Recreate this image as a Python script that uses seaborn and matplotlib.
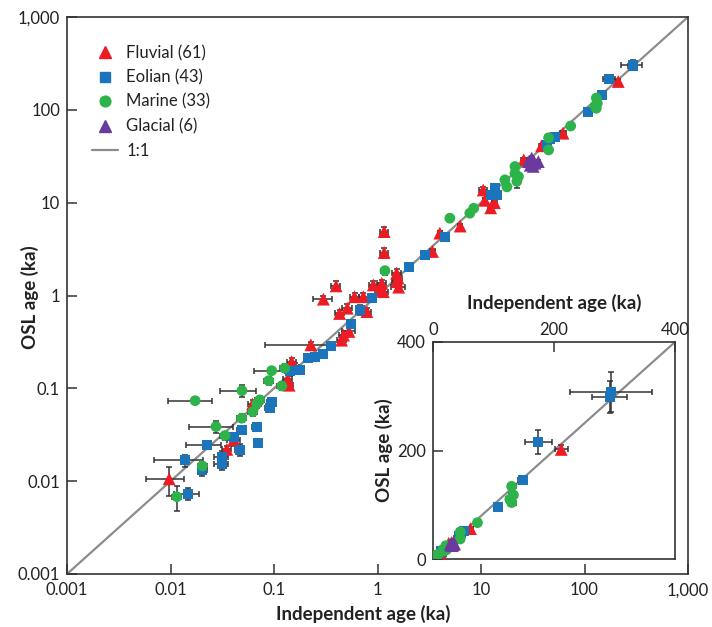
import numpy as np
import pandas as pd
import matplotlib
matplotlib.use("Agg")
import matplotlib.pyplot as plt
import seaborn as sns
from matplotlib.lines import Line2D

sns.set_theme(style="white")
plt.rcParams['font.family'] = ['Lato', 'DejaVu Sans']

# ---------------- data (ka) ----------------
fluv_x = [0.0097, 0.041, 0.062, 0.14, 0.148, 0.136, 0.16, 0.227, 0.45, 0.47,
          0.53, 0.43, 0.51, 0.79, 0.6, 0.73, 0.3, 0.398, 0.91, 1.14,
          1.1, 1.06, 1.16, 1.16, 1.53, 1.58, 1.6, 1.55, 3.4, 4.0,
          10.5, 12.4, 10.9, 25.9, 38.5, 62, 212, 13.5, 6.3, 0.035]
fluv_y = [0.0106, 0.028, 0.068, 0.108, 0.194, 0.126, 0.17, 0.294, 0.33, 0.374,
          0.41, 0.64, 0.73, 0.67, 0.97, 0.97, 0.913, 1.27, 1.3, 1.1,
          1.35, 1.15, 4.88, 2.9, 1.74, 1.54, 1.23, 1.41, 2.98, 4.7,
          13.7, 8.8, 10.6, 28.9, 41, 56, 202, 10.0, 5.6, 0.022]
fluv_xerr = [0.4, 0.15, 0.1, 0.1, 0.1, 0.1, 0.1, 0.64, 0.1, 0.1,
             0.15, 0.1, 0.1, 0.1, 0.1, 0.1, 0.2, 0.1, 0.1, 0.1,
             0.1, 0.1, 0.08, 0.08, 0.1, 0.1, 0.15, 0.1, 0.05, 0.05,
             0.08, 0.05, 0.05, 0.05, 0.05, 0.06, 0.05, 0.05, 0.05, 0.1]
fluv_yerr = [0.35, 0.15, 0.1, 0.1, 0.1, 0.1, 0.1, 0.08, 0.12, 0.1,
             0.1, 0.1, 0.1, 0.1, 0.1, 0.1, 0.08, 0.12, 0.1, 0.1,
             0.1, 0.1, 0.12, 0.12, 0.1, 0.1, 0.1, 0.1, 0.05, 0.05,
             0.08, 0.05, 0.05, 0.05, 0.05, 0.06, 0.04, 0.05, 0.05, 0.1]

eol_x = [0.0149, 0.0138, 0.0203, 0.0224, 0.0313, 0.0313, 0.0469, 0.0705, 0.0487, 0.068,
         0.0915, 0.0948, 0.143, 0.179, 0.213, 0.25, 0.3, 0.355, 0.56, 0.68,
         0.88, 2.01, 2.88, 4.49, 13.6, 12.6, 14.2, 51.9, 46.6, 43.5,
         108, 148, 174, 294, 292, 0.041]
eol_y = [0.0073, 0.0167, 0.0133, 0.0246, 0.0184, 0.0154, 0.0217, 0.0256, 0.0355, 0.038,
         0.062, 0.072, 0.152, 0.158, 0.21, 0.22, 0.235, 0.288, 0.49, 0.7,
         0.94, 2.02, 2.74, 4.25, 14.3, 12.2, 12.2, 51.5, 48.6, 42,
         95, 145, 216, 307, 299, 0.03]
eol_xerr = [0.27, 0.5, 0.1, 0.37, 0.15, 0.15, 0.1, 0.0, 0.1, 0.1,
            0.1, 0.1, 0.1, 0.1, 0.05, 0.05, 0.05, 0.05, 0.08, 0.08,
            0.05, 0.0, 0.0, 0.05, 0.05, 0.05, 0.05, 0.05, 0.05, 0.05,
            0.05, 0.05, 0.13, 0.23, 0.1, 0.1]
eol_yerr = [0.15, 0.15, 0.15, 0.1, 0.15, 0.15, 0.15, 0.0, 0.1, 0.0,
            0.1, 0.1, 0.1, 0.1, 0.05, 0.05, 0.05, 0.05, 0.08, 0.12,
            0.05, 0.0, 0.0, 0.05, 0.05, 0.05, 0.05, 0.05, 0.05, 0.05,
            0.05, 0.05, 0.1, 0.12, 0.1, 0.1]

mar_x = [0.0173, 0.0115, 0.0203, 0.0336, 0.0275, 0.0487, 0.0624, 0.073, 0.068, 0.049,
         0.095, 0.089, 0.119, 0.127, 1.18, 5.0, 7.8, 8.5, 17, 17.8,
         21.3, 23, 21.3, 22.2, 45, 45, 73.5, 130, 133, 130, 127]
mar_y = [0.0736, 0.0068, 0.0146, 0.031, 0.0387, 0.0477, 0.056, 0.075, 0.068, 0.0945,
         0.155, 0.121, 0.106, 0.165, 1.85, 6.8, 7.7, 8.7, 17.6, 14.8,
         24.5, 19.1, 20.7, 17, 50, 37, 67, 134, 118, 104, 110]
mar_xerr = [0.45, 0.1, 0.1, 0.1, 0.45, 0.1, 0.1, 0.1, 0.1, 0.38,
            0.33, 0.1, 0.1, 0.1, 0.08, 0.05, 0.05, 0.05, 0.05, 0.05,
            0.05, 0.05, 0.05, 0.05, 0.05, 0.05, 0.0, 0.05, 0.05, 0.05, 0.05]
mar_yerr = [0.05, 0.3, 0.1, 0.1, 0.15, 0.1, 0.1, 0.1, 0.1, 0.15,
            0.08, 0.1, 0.1, 0.1, 0.1, 0.05, 0.05, 0.05, 0.05, 0.05,
            0.05, 0.05, 0.05, 0.15, 0.05, 0.05, 0.0, 0.05, 0.05, 0.05, 0.05]

gla_x = [28.6, 30.9, 33.2, 35.8, 32.0, 29.9]
gla_y = [27.7, 30.2, 26.6, 27.7, 24.6, 25.3]
gla_xerr = [0.03, 0.03, 0.03, 0.03, 0.03, 0.03]
gla_yerr = [0.03, 0.03, 0.03, 0.03, 0.03, 0.03]

groups = ["Fluvial", "Eolian", "Marine", "Glacial"]
labels = ["Fluvial (61)", "Eolian (43)", "Marine (33)", "Glacial (6)"]
colors = {"Fluvial": "#ED1C24", "Eolian": "#1B75BC", "Marine": "#2DB34A", "Glacial": "#6A3A9C"}
markers = {"Fluvial": "^", "Eolian": "s", "Marine": "o", "Glacial": "^"}
msize = {"Fluvial": 85, "Eolian": 52, "Marine": 60, "Glacial": 85}

frames = []
for g, xs, ys, xe, ye in [("Fluvial", fluv_x, fluv_y, fluv_xerr, fluv_yerr),
                          ("Eolian", eol_x, eol_y, eol_xerr, eol_yerr),
                          ("Marine", mar_x, mar_y, mar_xerr, mar_yerr),
                          ("Glacial", gla_x, gla_y, gla_xerr, gla_yerr)]:
    frames.append(pd.DataFrame({"x": xs, "y": ys, "xe": xe, "ye": ye, "env": g}))
df = pd.concat(frames, ignore_index=True)
df["xerr"] = df["x"] * df["xe"]
df["yerr"] = df["y"] * df["ye"]

ERRC = "#333333"
SPINE = "#333333"
LINEC = "#8c8c8c"


def draw(ax):
    err = df[(df.xe > 0) | (df.ye > 0)]
    ax.errorbar(err.x, err.y, xerr=err.xerr, yerr=err.yerr, fmt="none",
                ecolor=ERRC, elinewidth=1.1, capsize=2.5, capthick=1.1, zorder=2)
    for g in groups:
        sub = df[df.env == g]
        sns.scatterplot(data=sub, x="x", y="y", marker=markers[g], color=colors[g],
                        s=msize[g], edgecolor="none", linewidth=0, ax=ax,
                        legend=False, zorder=3)


fig = plt.figure(figsize=(7.12, 6.27), dpi=100)
fig.patch.set_facecolor("white")

# ---------------- main axes ----------------
ax = fig.add_axes([67 / 712, 53 / 627, 621 / 712, 557 / 627])
ax.plot([0.001, 1000], [0.001, 1000], color=LINEC, lw=1.6, zorder=1)
draw(ax)
ax.set_xscale("log")
ax.set_yscale("log")
ax.set_xlim(0.001, 1000)
ax.set_ylim(0.001, 1000)
ticks = [0.001, 0.01, 0.1, 1, 10, 100, 1000]
tick_labels = ["0.001", "0.01", "0.1", "1", "10", "100", "1,000"]
ax.set_xticks(ticks)
ax.set_xticklabels(tick_labels)
ax.set_yticks(ticks)
ax.set_yticklabels(tick_labels)
ax.minorticks_off()
ax.tick_params(direction="in", length=7, width=1.1, color=SPINE, labelsize=12,
               labelcolor="#222222", top=False, right=False, bottom=True, left=True)
ax.tick_params(axis="x", pad=6)
ax.tick_params(axis="y", pad=5)
for s in ax.spines.values():
    s.set_color(SPINE)
    s.set_linewidth(1.2)
ax.set_xlabel("Independent age (ka)", fontsize=13.5, fontweight="bold", color="#222222")
ax.set_ylabel("OSL age (ka)", fontsize=13.5, fontweight="bold", color="#222222")
ax.xaxis.set_label_coords(0.477, -0.056)
ax.yaxis.set_label_coords(-0.045, 0.497)

handles = [Line2D([], [], ls="none", marker=markers[g], color=colors[g],
                  markersize=np.sqrt(msize[g])) for g in groups]
handles.append(Line2D([], [], color=LINEC, lw=1.6))
leg = ax.legend(handles, labels + ["1:1"], loc="upper left",
                bbox_to_anchor=(0.040, 0.950), frameon=False, fontsize=12,
                handlelength=1.56, handletextpad=0.5, labelspacing=0.5,
                borderpad=0, borderaxespad=0)
for t in leg.get_texts():
    t.set_color("#222222")

# ---------------- inset ----------------
ax2 = fig.add_axes([433 / 712, 68 / 627, 242 / 712, 217 / 627])
ax2.set_facecolor("white")
ax2.plot([0, 400], [0, 400], color=LINEC, lw=1.6, zorder=1)
draw(ax2)
ax2.set_xlim(0, 400)
ax2.set_ylim(0, 400)
ax2.set_xticks([0, 200, 400])
ax2.set_yticks([0, 200, 400])
ax2.set_xticklabels(["0", "200", "400"])
ax2.set_yticklabels(["0", "200", "400"])
ax2.xaxis.tick_top()
ax2.xaxis.set_label_position("top")
ax2.tick_params(direction="in", length=7, width=1.1, color=SPINE, labelsize=12,
                labelcolor="#222222", bottom=False, right=False, top=True, left=True)
ax2.tick_params(axis="x", pad=3)
ax2.tick_params(axis="y", pad=5)
for s in ax2.spines.values():
    s.set_color(SPINE)
    s.set_linewidth(1.2)
ax2.set_xlabel("Independent age (ka)", fontsize=13.5, fontweight="bold", color="#222222",
               labelpad=9)
ax2.set_ylabel("OSL age (ka)", fontsize=13.5, fontweight="bold", color="#222222",
               labelpad=3)

fig.savefig("out.png", dpi=100, facecolor="white")
